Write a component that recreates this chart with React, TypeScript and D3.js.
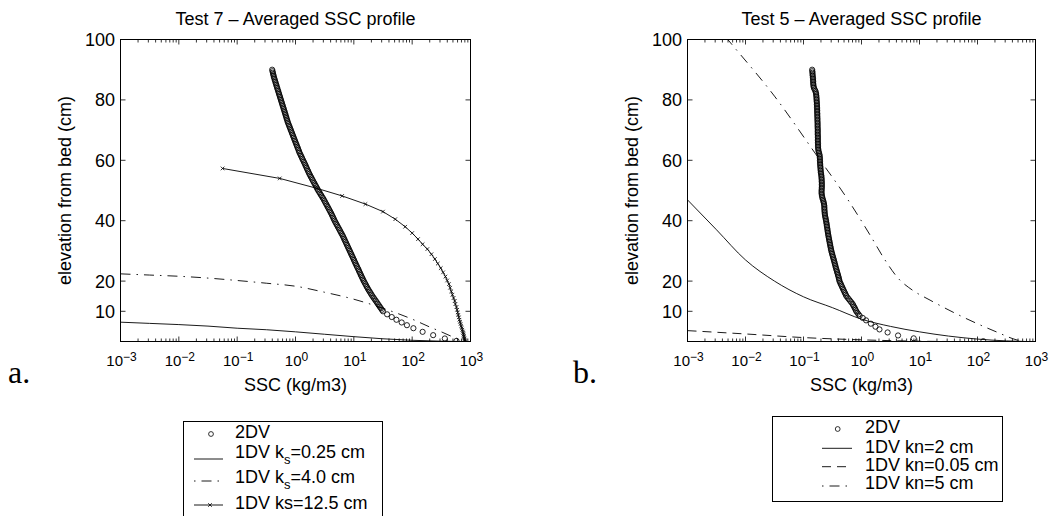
import React from 'react';
import * as d3 from 'd3';

// ---------- axis / text content ----------
const X_TICKS = [1e-3, 1e-2, 1e-1, 1, 10, 100, 1000];
const X_TICK_EXP = ['\u22123', '\u22122', '\u22121', '0', '1', '2', '3'];
const Y_TICKS = [10, 20, 40, 60, 80, 100];
const TITLE_A = 'Test 7 \u2013 Averaged SSC profile';
const TITLE_B = 'Test 5 \u2013 Averaged SSC profile';
const X_LABEL = 'SSC (kg/m3)';
const Y_LABEL = 'elevation from bed (cm)';

// ---------- Test 7 data : [elevation cm, SSC kg/m3] ----------
const T7_2DV_Z_SSC: [number, number][] = [
  [90, 0.398], [89.5, 0.404], [89, 0.409], [88.5, 0.415], [88, 0.421], [87.5, 0.427], [87, 0.435], [86.5, 0.443], [86, 0.451], [85.5, 0.459],
  [85, 0.468], [84.5, 0.476], [84, 0.485], [83.5, 0.494], [83, 0.504], [82.5, 0.513], [82, 0.522], [81.5, 0.532], [81, 0.542], [80.5, 0.552],
  [80, 0.562], [79.5, 0.573], [79, 0.583], [78.5, 0.594], [78, 0.605], [77.5, 0.617], [77, 0.628], [76.5, 0.64], [76, 0.652], [75.5, 0.664],
  [75, 0.676], [74.5, 0.689], [74, 0.701], [73.5, 0.714], [73, 0.728], [72.5, 0.741], [72, 0.759], [71.5, 0.776], [71, 0.794], [70.5, 0.813],
  [70, 0.832], [69.5, 0.851], [69, 0.871], [68.5, 0.891], [68, 0.912], [67.5, 0.933], [67, 0.955], [66.5, 0.977], [66, 1.0], [65.5, 1.023],
  [65, 1.047], [64.5, 1.07], [64, 1.1], [63.5, 1.12], [63, 1.15], [62.5, 1.17], [62, 1.21], [61.5, 1.24], [61, 1.28], [60.5, 1.31],
  [60, 1.35], [59.5, 1.39], [59, 1.43], [58.5, 1.47], [58, 1.51], [57.5, 1.55], [57, 1.59], [56.5, 1.64], [56, 1.68], [55.5, 1.73],
  [55, 1.78], [54.5, 1.84], [54, 1.9], [53.5, 1.96], [53, 2.02], [52.5, 2.09], [52, 2.16], [51.5, 2.23], [51, 2.3], [50.5, 2.38],
  [50, 2.45], [49.5, 2.55], [49, 2.64], [48.5, 2.74], [48, 2.84], [47.5, 2.95], [47, 3.05], [46.5, 3.15], [46, 3.25], [45.5, 3.36],
  [45, 3.47], [44.5, 3.58], [44, 3.7], [43.5, 3.82], [43, 3.94], [42.5, 4.07], [42, 4.19], [41.5, 4.31], [41, 4.43], [40.5, 4.55],
  [40, 4.68], [39.5, 4.83], [39, 4.99], [38.5, 5.15], [38, 5.32], [37.5, 5.5], [37, 5.68], [36.5, 5.86], [36, 6.05], [35.5, 6.25],
  [35, 6.46], [34.5, 6.64], [34, 6.82], [33.5, 7.01], [33, 7.21], [32.5, 7.41], [32, 7.62], [31.5, 7.83], [31, 8.05], [30.5, 8.28],
  [30, 8.51], [29.5, 8.75], [29, 8.99], [28.5, 9.25], [28, 9.51], [27.5, 9.77], [27, 10.05], [26.5, 10.3], [26, 10.6], [25.5, 10.9],
  [25, 11.2], [24.5, 11.5], [24, 11.9], [23.5, 12.2], [23, 12.5], [22.5, 12.9], [22, 13.2], [21.5, 13.6], [21, 14.0], [20.5, 14.4],
  [20, 14.8], [19.5, 15.3], [19, 15.8], [18.5, 16.3], [18, 16.8], [17.5, 17.4], [17, 18.0], [16.5, 18.7], [16, 19.4], [15.5, 20.1],
  [15, 20.9], [14.5, 21.8], [14, 22.7], [13.5, 23.7], [13, 24.7], [12.5, 25.7], [12, 26.8], [11.5, 27.9], [11, 29.1], [10.5, 30.3],
  [10, 31.6], [9.0, 37.2], [8.1, 44.7], [7.2, 53.7], [6.3, 66.1], [5.4, 81.3], [4.4, 105], [3.2, 151], [2.1, 229], [1.0, 363], [0.2, 575],
];

// 1DV lines : [SSC kg/m3, elevation cm]
const T7_KS025_SSC_Z: [number, number][] = [
  [0.001, 6.4], [0.00316, 6.0], [0.01, 5.6], [0.0316, 5.1], [0.1, 4.4], [0.316, 3.9], [1, 3.2],
  [3.16, 2.4], [10, 1.6], [31.6, 0.9], [100, 0.4], [316, 0.1], [794, 0],
];
const T7_KS40_SSC_Z: [number, number][] = [
  [0.001, 22.4], [0.00316, 22.0], [0.01, 21.6], [0.0316, 21.0], [0.1, 20.2], [0.316, 19.3], [1, 18.3],
  [3.16, 16.3], [10, 14.0], [31.6, 11.0], [100, 7.4], [200, 4.8], [316, 3.2], [500, 1.5], [794, 0],
];
const T7_KS125_SSC_Z: [number, number][] = [
  [0.0562, 57.3], [0.537, 54.0], [2.34, 50.7], [6.31, 48.2], [15.8, 45.5], [31.6, 43.0], [51.3, 40.5], [75.9, 38.0],
  [100, 35.9], [126, 33.9], [151, 32.2], [182, 30.6], [214, 28.9], [245, 27.3], [275, 25.8], [309, 24.3], [339, 22.9],
  [372, 21.5], [398, 20.2], [427, 19.0], [447, 17.8], [468, 16.6], [490, 15.5], [513, 14.4], [537, 13.4], [550, 12.4],
  [575, 11.4], [589, 10.5], [603, 9.6], [617, 8.8], [631, 8.0], [646, 7.2], [661, 6.5], [676, 5.8], [692, 5.1],
  [708, 4.5], [724, 3.9], [741, 3.3], [750, 2.8], [759, 2.3], [767, 1.8], [776, 1.4], [785, 1.0], [794, 0.6],
  [803, 0.3], [813, 0.0],
];

// ---------- Test 5 data ----------
const T5_2DV_Z_SSC: [number, number][] = [
  [90, 0.141], [89.5, 0.142], [89, 0.143], [88.5, 0.143], [88, 0.144], [87.5, 0.145], [87, 0.146], [86.5, 0.146], [86, 0.147], [85.5, 0.147],
  [85, 0.148], [84.5, 0.149], [84, 0.151], [83.5, 0.155], [83, 0.16], [82.5, 0.163], [82, 0.165], [81.5, 0.166], [81, 0.167], [80.5, 0.168],
  [80, 0.168], [79.5, 0.169], [79, 0.17], [78.5, 0.17], [78, 0.171], [77.5, 0.171], [77, 0.172], [76.5, 0.172], [76, 0.172], [75.5, 0.173],
  [75, 0.173], [74.5, 0.173], [74, 0.174], [73.5, 0.174], [73, 0.174], [72.5, 0.175], [72, 0.175], [71.5, 0.175], [71, 0.175], [70.5, 0.176],
  [70, 0.176], [69.5, 0.176], [69, 0.176], [68.5, 0.176], [68, 0.177], [67.5, 0.177], [67, 0.177], [66.5, 0.177], [66, 0.177], [65.5, 0.178],
  [65, 0.178], [64.5, 0.178], [64, 0.179], [63.5, 0.18], [63, 0.182], [62.5, 0.185], [62, 0.188], [61.5, 0.19], [61, 0.191], [60.5, 0.192],
  [60, 0.192], [59.5, 0.193], [59, 0.193], [58.5, 0.194], [58, 0.195], [57.5, 0.196], [57, 0.197], [56.5, 0.198], [56, 0.199], [55.5, 0.201],
  [55, 0.203], [54.5, 0.204], [54, 0.205], [53.5, 0.206], [53, 0.206], [52.5, 0.207], [52, 0.207], [51.5, 0.207], [51, 0.207], [50.5, 0.206],
  [50, 0.205], [49.5, 0.205], [49, 0.205], [48.5, 0.207], [48, 0.209], [47.5, 0.212], [47, 0.216], [46.5, 0.22], [46, 0.223], [45.5, 0.226],
  [45, 0.228], [44.5, 0.229], [44, 0.229], [43.5, 0.23], [43, 0.231], [42.5, 0.232], [42, 0.234], [41.5, 0.236], [41, 0.239], [40.5, 0.242],
  [40, 0.245], [39.5, 0.247], [39, 0.25], [38.5, 0.252], [38, 0.254], [37.5, 0.257], [37, 0.259], [36.5, 0.261], [36, 0.264], [35.5, 0.266],
  [35, 0.269], [34.5, 0.272], [34, 0.275], [33.5, 0.278], [33, 0.281], [32.5, 0.285], [32, 0.288], [31.5, 0.291], [31, 0.295], [30.5, 0.298],
  [30, 0.302], [29.5, 0.307], [29, 0.312], [28.5, 0.317], [28, 0.322], [27.5, 0.328], [27, 0.333], [26.5, 0.339], [26, 0.344], [25.5, 0.35],
  [25, 0.355], [24.5, 0.361], [24, 0.367], [23.5, 0.374], [23, 0.38], [22.5, 0.387], [22, 0.393], [21.5, 0.4], [21, 0.406], [20.5, 0.412],
  [20, 0.417], [19.5, 0.428], [19, 0.44], [18.5, 0.452], [18, 0.465], [17.5, 0.478], [17, 0.491], [16.5, 0.505], [16, 0.52], [15.5, 0.535],
  [15, 0.55], [14.5, 0.577], [14, 0.605], [13.5, 0.635], [13, 0.666], [12.5, 0.699], [12, 0.72], [11.5, 0.745], [11, 0.77], [10.5, 0.79],
  [10, 0.813], [9.5, 0.85], [9, 0.89], [8.5, 0.93], [7.8, 1.05], [7.0, 1.2], [5.9, 1.45], [4.9, 1.74], [4.0, 2.04], [3.0, 2.82],
  [2.0, 4.27], [1.05, 7.94], [0.1, 126],
];
const T5_KN2_SSC_Z: [number, number][] = [
  [0.001, 46.9], [0.00316, 37.0], [0.01, 27.0], [0.0316, 20.0], [0.1, 14.8], [0.316, 11.2], [1, 7.4],
  [3.16, 5.0], [10, 3.2], [31.6, 1.8], [100, 0.8], [316, 0.2], [708, 0],
];
const T5_KN005_SSC_Z: [number, number][] = [
  [0.001, 3.6], [0.01, 2.5], [0.1, 1.3], [1, 0.55], [10, 0.1], [31.6, 0],
];
const T5_KN5_SSC_Z: [number, number][] = [
  [0.00251, 106.8], [0.0052, 99.5], [0.0323, 81.0], [0.158, 62.4], [0.585, 46.9], [1.4, 35.3], [2.54, 27.0],
  [4.26, 21.0], [7.43, 17.1], [15.2, 13.7], [56.2, 8.1], [217, 3.1], [479, 0.5], [631, 0],
];

// ---------- layout ----------
const TOP = 39.5;
const BOTTOM = 341.5;
const FONT = 'Liberation Sans, Arial, Helvetica, sans-serif';
const DASHDOT = '10,6,1.5,6';
const DASHED = '9,6';

type PanelProps = {
  id: string;
  x0: number;
  x1: number;
  title: string;
  render: (x: d3.ScaleLogarithmic<number, number>, y: d3.ScaleLinear<number, number>) => React.ReactNode;
};

function Panel({ id, x0, x1, title, render }: PanelProps) {
  const x = d3.scaleLog().domain([1e-3, 1e3]).range([x0, x1]);
  const y = d3.scaleLinear().domain([0, 100]).range([BOTTOM, TOP]);
  const minor = x.ticks().filter((t) => !X_TICKS.some((m) => Math.abs(m - t) / m < 1e-9));
  const cx = (x0 + x1) / 2;
  const cy = (TOP + BOTTOM) / 2;
  return (
    <g>
      <defs>
        <clipPath id={id}>
          <rect x={x0} y={TOP} width={x1 - x0} height={BOTTOM - TOP} />
        </clipPath>
      </defs>
      <g clipPath={`url(#${id})`}>{render(x, y)}</g>
      {/* ticks */}
      <g stroke="#000" strokeWidth={0.8}>
        {minor.map((t, i) => (
          <g key={'m' + i}>
            <line x1={x(t)} x2={x(t)} y1={BOTTOM} y2={BOTTOM - 3} />
            <line x1={x(t)} x2={x(t)} y1={TOP} y2={TOP + 3} />
          </g>
        ))}
        {X_TICKS.map((t, i) => (
          <g key={'M' + i}>
            <line x1={x(t)} x2={x(t)} y1={BOTTOM} y2={BOTTOM - 5} />
            <line x1={x(t)} x2={x(t)} y1={TOP} y2={TOP + 5} />
          </g>
        ))}
        {Y_TICKS.map((t, i) => (
          <g key={'Y' + i}>
            <line x1={x0} x2={x0 + 5} y1={y(t)} y2={y(t)} />
            <line x1={x1} x2={x1 - 5} y1={y(t)} y2={y(t)} />
          </g>
        ))}
      </g>
      <rect x={x0} y={TOP} width={x1 - x0} height={BOTTOM - TOP} fill="none" stroke="#000" strokeWidth={1} />
      {/* tick labels */}
      {X_TICKS.map((t, i) => (
        <text key={'xl' + i} x={x(t) + 1} y={365.5} textAnchor="middle" fontSize={15}>
          10<tspan fontSize={12} dy={-4.5}>{X_TICK_EXP[i]}</tspan>
        </text>
      ))}
      {Y_TICKS.map((t, i) => (
        <text key={'yl' + i} x={x0 - 5.5} y={y(t) + 6.4} textAnchor="end" fontSize={18}>
          {t}
        </text>
      ))}
      <text x={cx} y={24.5} textAnchor="middle" fontSize={18}>{title}</text>
      <text x={cx} y={391} textAnchor="middle" fontSize={18}>{X_LABEL}</text>
      <text transform={`translate(${x0 - 49.5},${cy}) rotate(-90)`} textAnchor="middle" fontSize={18}>
        {Y_LABEL}
      </text>
    </g>
  );
}

function circles(data: [number, number][], x: d3.ScaleLogarithmic<number, number>, y: d3.ScaleLinear<number, number>) {
  return data.map((d, i) => (
    <circle key={i} cx={x(d[1])} cy={y(d[0])} r={2.6} fill="none" stroke="#000" strokeWidth={0.85} />
  ));
}

function linePath(
  data: [number, number][],
  x: d3.ScaleLogarithmic<number, number>,
  y: d3.ScaleLinear<number, number>,
  smooth: boolean
) {
  const gen = d3
    .line<[number, number]>()
    .x((d) => x(d[0]))
    .y((d) => y(d[1]))
    .curve(smooth ? d3.curveMonotoneX : d3.curveLinear);
  return gen(data) || '';
}

const XMARK = 'M-1.8,-1.8L1.8,1.8M-1.8,1.8L1.8,-1.8';

export default function App() {
  return (
    <svg
      width={1061}
      height={516}
      style={{ position: 'absolute', left: 0, top: 0 }}
      fontFamily={FONT}
    >
      <rect x={0} y={0} width={1061} height={516} fill="#fff" />
      <Panel
        id="clipA"
        x0={120.5}
        x1={470.5}
        title={TITLE_A}
        render={(x, y) => (
          <g>
            <path d={linePath(T7_KS025_SSC_Z, x, y, true)} fill="none" stroke="#000" strokeWidth={0.9} />
            <path d={linePath(T7_KS40_SSC_Z, x, y, true)} fill="none" stroke="#000" strokeWidth={0.9} strokeDasharray={DASHDOT} />
            <path d={linePath(T7_KS125_SSC_Z, x, y, false)} fill="none" stroke="#000" strokeWidth={0.9} />
            {T7_KS125_SSC_Z.map((d, i) => (
              <path key={i} d={XMARK} transform={`translate(${x(d[0])},${y(d[1])})`} stroke="#000" strokeWidth={0.8} fill="none" />
            ))}
            {circles(T7_2DV_Z_SSC, x, y)}
          </g>
        )}
      />
      <Panel
        id="clipB"
        x0={687.5}
        x1={1035.5}
        title={TITLE_B}
        render={(x, y) => (
          <g>
            <path d={linePath(T5_KN2_SSC_Z, x, y, true)} fill="none" stroke="#000" strokeWidth={0.9} />
            <path d={linePath(T5_KN005_SSC_Z, x, y, true)} fill="none" stroke="#000" strokeWidth={0.9} strokeDasharray={DASHED} />
            <path d={linePath(T5_KN5_SSC_Z, x, y, true)} fill="none" stroke="#000" strokeWidth={0.9} strokeDasharray={DASHDOT} />
            {circles(T5_2DV_Z_SSC, x, y)}
          </g>
        )}
      />

      {/* panel letters */}
      <text x={8} y={383} fontFamily="Liberation Serif, Times New Roman, serif" fontSize={32}>a.</text>
      <text x={573} y={383} fontFamily="Liberation Serif, Times New Roman, serif" fontSize={32}>b.</text>

      {/* legend a */}
      <g fontSize={18}>
        <rect x={183.5} y={421.5} width={199} height={130} fill="#fff" stroke="#000" strokeWidth={1} />
        <circle cx={211} cy={434} r={2.4} fill="none" stroke="#000" strokeWidth={0.8} />
        <text x={235} y={438.3}>2DV</text>
        <line x1={194} x2={223} y1={459} y2={459} stroke="#000" strokeWidth={0.9} />
        <text x={235} y={458.3}>
          1DV k<tspan fontSize={13} dy={6}>s</tspan>
          <tspan dy={-6}>=0.25 cm</tspan>
        </text>
        <line x1={194} x2={223} y1={481} y2={481} stroke="#000" strokeWidth={0.9} strokeDasharray={DASHDOT} strokeDashoffset={16} />
        <text x={235} y={483.3}>
          1DV k<tspan fontSize={13} dy={6}>s</tspan>
          <tspan dy={-6}>=4.0 cm</tspan>
        </text>
        <line x1={194} x2={223} y1={505} y2={505} stroke="#000" strokeWidth={0.9} />
        <path d={XMARK} transform="translate(210,505)" stroke="#000" strokeWidth={0.8} />
        <text x={235} y={509}>1DV ks=12.5 cm</text>
      </g>

      {/* legend b */}
      <g fontSize={18}>
        <rect x={772.5} y={416.5} width={230} height={85} fill="#fff" stroke="#000" strokeWidth={1} />
        <circle cx={837.7} cy={429} r={2.4} fill="none" stroke="#000" strokeWidth={0.8} />
        <text x={865} y={433.3}>2DV</text>
        <line x1={822} x2={852} y1={448.3} y2={448.3} stroke="#000" strokeWidth={0.9} />
        <text x={865} y={452.7}>1DV kn=2 cm</text>
        <line x1={822} x2={852} y1={466.7} y2={466.7} stroke="#000" strokeWidth={0.9} strokeDasharray={DASHED} />
        <text x={865} y={471}>1DV kn=0.05 cm</text>
        <line x1={822} x2={852} y1={486} y2={486} stroke="#000" strokeWidth={0.9} strokeDasharray={DASHDOT} strokeDashoffset={16} />
        <text x={865} y={489.3}>1DV kn=5 cm</text>
      </g>
    </svg>
  );
}
